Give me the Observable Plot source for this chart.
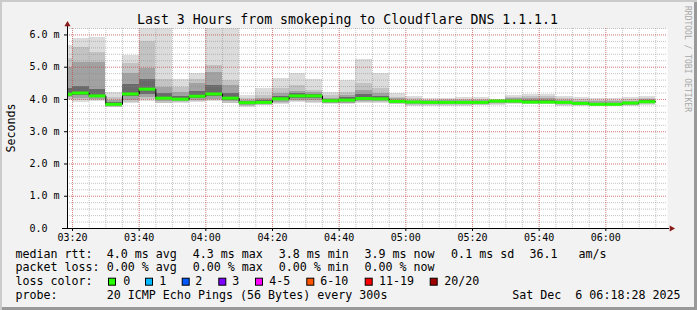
<!DOCTYPE html>
<html><head><meta charset="utf-8">
<script src="https://cdn.jsdelivr.net/npm/d3@7"></script>
<script src="https://cdn.jsdelivr.net/npm/@observablehq/plot@0.6"></script>
<style>
html,body{margin:0;padding:0;background:#fff;}
#wrap{position:relative;width:697px;height:310px;background:#f2f2f2;box-shadow:inset 2px 2px 0 #cbcbcb, inset -3px -3px 0 #999;overflow:hidden;}
#wrap svg{position:absolute;left:0;top:0;}
</style></head><body><div id="wrap"></div>
<script>
// 5-minute intervals (start times), Sat Dec 6 2025
const times = ["03:15","03:20","03:25","03:30","03:35","03:40","03:45","03:50","03:55","04:00","04:05","04:10","04:15","04:20","04:25","04:30","04:35","04:40","04:45","04:50","04:55","05:00","05:05","05:10","05:15","05:20","05:25","05:30","05:35","05:40","05:45","05:50","05:55","06:00","06:05","06:10"];
// round-trip times in ms
const median = [4.16,4.20,4.11,3.85,4.17,4.32,4.04,4.01,4.10,4.17,4.04,3.90,3.91,4.02,4.11,4.11,3.96,3.98,4.03,4.02,3.94,3.92,3.91,3.91,3.91,3.91,3.95,3.95,3.92,3.92,3.91,3.88,3.85,3.85,3.89,3.93];
const maxRtt = [5.67,5.88,5.91,4.22,5.36,6.5,6.5,4.62,4.81,6.5,6.5,4.13,4.33,4.64,4.81,4.63,4.21,4.59,5.25,4.80,4.18,4.08,4.03,4.04,4.06,4.06,4.01,4.13,4.16,4.16,4.09,4.06,4.03,4.03,4.06,4.09];
const hiB = [5.26,5.62,5.46,4.07,5.10,5.80,4.63,4.38,4.63,5.05,4.58,4.02,4.12,4.33,4.43,4.29,4.11,4.23,4.49,4.34,4.07,4.02,3.98,3.99,4.00,4.00,3.99,4.06,4.09,4.08,4.03,4.00,3.97,3.97,4.00,4.03];
const hiC = [5.00,5.15,5.15,3.97,4.79,4.95,4.38,4.22,4.48,4.84,4.43,3.97,4.02,4.17,4.25,4.22,4.04,4.13,4.29,4.17,4.02,3.98,3.96,3.96,3.97,3.97,3.98,4.02,4.02,4.02,3.98,3.95,3.93,3.93,3.95,3.99];
const hiD = [4.35,4.40,4.30,3.92,4.45,4.63,4.17,4.10,4.26,4.43,4.20,3.93,3.96,4.08,4.17,4.16,4.00,4.05,4.14,4.08,3.98,3.95,3.94,3.94,3.94,3.94,3.97,3.98,3.97,3.97,3.95,3.92,3.89,3.89,3.92,3.96];
const loD = [4.10,4.12,4.05,3.81,4.08,4.15,3.99,3.97,4.04,4.08,3.98,3.86,3.88,3.96,4.03,4.04,3.92,3.93,3.98,3.97,3.90,3.87,3.87,3.87,3.87,3.88,3.91,3.92,3.89,3.89,3.87,3.85,3.82,3.82,3.85,3.89];
const loC = [4.05,4.03,4.00,3.78,3.98,4.05,3.93,3.93,3.98,4.01,3.93,3.81,3.84,3.90,3.97,3.96,3.89,3.89,3.93,3.93,3.87,3.83,3.83,3.83,3.84,3.85,3.87,3.88,3.87,3.87,3.84,3.82,3.80,3.80,3.82,3.86];
const loB = [4.00,3.96,3.97,3.76,3.91,3.99,3.89,3.90,3.94,3.96,3.89,3.78,3.82,3.86,3.93,3.91,3.87,3.86,3.90,3.90,3.85,3.80,3.80,3.81,3.81,3.82,3.84,3.86,3.85,3.85,3.81,3.80,3.78,3.78,3.80,3.84];
const minRtt = [3.97,3.91,3.95,3.74,3.86,3.95,3.86,3.88,3.91,3.93,3.86,3.76,3.80,3.83,3.91,3.88,3.85,3.84,3.88,3.88,3.83,3.77,3.78,3.79,3.79,3.80,3.81,3.84,3.84,3.84,3.79,3.79,3.77,3.77,3.79,3.82];
const yTicks = [0,1,2,3,4,5,6];
const lossLabels = ["0","1","2","3","4-5","6-10","11-19","20/20"];
const lossColors = ["#26ff00","#00b8ff","#0059ff","#7e00ff","#ff00ff","#ff5500","#ff0000","#a10000"];

const parse = t => new Date(`2025-12-06T${t}:00Z`);
const STEP = 5 * 60 * 1000;
const rows = times.map((t, i) => ({start: parse(t), end: new Date(parse(t).getTime() + STEP), median: median[i]}));
const stepPts = rows.map(d => ({x: d.start, y: d.median})).concat([{x: rows[rows.length-1].end, y: median[median.length-1]}]);
const bands = [
  {lo: minRtt, hi: maxRtt, fill: "#dcdcdc"},
  {lo: loB, hi: hiB, fill: "#c3c3c3"},
  {lo: loC, hi: hiC, fill: "#a2a2a2"},
  {lo: loD, hi: hiD, fill: "#6a6a6a"}
];
const xStart = new Date("2025-12-06T03:18:30Z"), xEnd = new Date("2025-12-06T06:18:30Z");
const majorX = d3.utcMinute.every(20).range(xStart, xEnd);
const minorX = d3.utcMinute.every(5).range(xStart, xEnd);
const majorY = yTicks.filter(v => v > 0);
const minorY = d3.range(1, 32).map(i => +(i * 0.2).toFixed(1));

const gridMinor = {stroke: "#8a8a8a", strokeOpacity: 0.5, strokeDasharray: "1,1"};
const gridMajor = {stroke: "#ff0000", strokeOpacity: 0.35, strokeDasharray: "1,1"};

const chart = Plot.plot({
  width: 697, height: 250,
  marginTop: 28, marginBottom: 22, marginLeft: 67, marginRight: 30,
  style: {background: "transparent", fontFamily: "'DejaVu Sans Mono', monospace", fontSize: "10px", color: "#000", overflow: "visible"},
  x: {type: "utc", domain: [xStart, xEnd], ticks: majorX, tickFormat: d3.utcFormat("%H:%M"), tickSize: 3, tickPadding: 2, label: null},
  y: {domain: [0, 6.2], ticks: yTicks, tickFormat: d => d === 0 ? "0.0\u00a0\u00a0" : d.toFixed(1) + " m", tickSize: 3, tickPadding: 5, label: null},
  marks: [
    Plot.frame({fill: "white", stroke: "none"}),
    ...bands.map(b => Plot.rect(rows, {x1: "start", x2: "end", y1: (d, i) => b.lo[i], y2: (d, i) => b.hi[i], fill: b.fill, clip: true, shapeRendering: "crispEdges"})),
    Plot.ruleX(minorX, gridMinor),
    Plot.ruleY(minorY, gridMinor),
    Plot.ruleX(majorX, gridMajor),
    Plot.ruleY(majorY, gridMajor),
    Plot.line(stepPts, {x: "x", y: "y", curve: "step-after", stroke: "#000", strokeWidth: 1, clip: true}),
    Plot.ruleY(rows, {x1: "start", x2: "end", y: "median", stroke: lossColors[0], strokeWidth: 3, clip: true}),
    Plot.ruleY([0], {stroke: "#000", insetLeft: -5, insetRight: -2}),
    Plot.ruleX([xStart], {stroke: "#000", insetTop: -5}),
    Plot.dot([0], {x: () => xStart, y: () => 6.2, symbol: "triangle", r: 2.3, fill: "#8b1a1a", stroke: "none", dy: -4}),
    Plot.dot([0], {x: () => xEnd, y: () => 0, symbol: "triangle", r: 2.3, fill: "#8b1a1a", stroke: "none", rotate: 90, dx: 4})
  ]
});
const wrap = document.getElementById("wrap");
wrap.appendChild(chart);

// text overlay
const ov = d3.create("svg").attr("width", 697).attr("height", 310)
  .style("font-family", "'DejaVu Sans Mono', monospace").attr("fill", "#000");
ov.append("text").attr("x", 347.5).attr("y", 24).attr("text-anchor", "middle").style("font-size", "13.2px")
  .text("Last 3 Hours from smokeping to Cloudflare DNS 1.1.1.1");
ov.append("text").attr("transform", "translate(10.5,128) rotate(-90)").attr("text-anchor", "middle")
  .attr("dominant-baseline", "central").style("font-size", "11.67px").text("Seconds");
ov.append("text").attr("transform", "translate(687,59) rotate(90)").attr("text-anchor", "middle")
  .attr("dominant-baseline", "central").style("font-size", "8px").attr("fill", "#a8a8a8").text("RRDTOOL / TOBI OETIKER");

const fs = "11.67px";
const seg = (x, y, s, anchor) => ov.append("text").attr("x", x).attr("y", y).attr("text-anchor", anchor || "start")
  .style("font-size", fs).style("white-space", "pre").text(s);
const cols = [15.4, 106.7, 192.7, 278.7, 364.4, 451.1];
const l1 = ["median rtt:", "4.0 ms avg", "4.3 ms max", "3.8 ms min", "3.9 ms now", "0.1 ms sd"];
l1.forEach((s, i) => seg(cols[i], 257.7, s));
seg(529.4, 257.7, "36.1"); seg(578.4, 257.7, "am/s");
const l2 = ["packet loss:", "0.00 % avg", "0.00 % max", "0.00 % min", "0.00 % now"];
l2.forEach((s, i) => seg(cols[i], 271.4, s));
seg(cols[0], 285.1, "loss color:");
const boxX = [108.5, 145.5, 182.2, 218.8, 255.5, 306.8, 365.2, 430.2];
const labX = [123.3, 159.3, 195.3, 232.3, 269.3, 320.3, 379.0, 444.3];
lossLabels.forEach((s, i) => {
  ov.append("rect").attr("x", boxX[i]).attr("y", 278.2).attr("width", 7).attr("height", 7)
    .attr("fill", lossColors[i]).attr("stroke", "#000").attr("stroke-width", 1);
  seg(labX[i], 285.1, s);
});
seg(cols[0], 298.9, "probe:");
seg(cols[1], 298.9, "20 ICMP Echo Pings (56 Bytes) every 300s");
seg(680.6, 298.9, "Sat Dec  6 06:18:28 2025", "end");
wrap.appendChild(ov.node());
</script></body></html>
